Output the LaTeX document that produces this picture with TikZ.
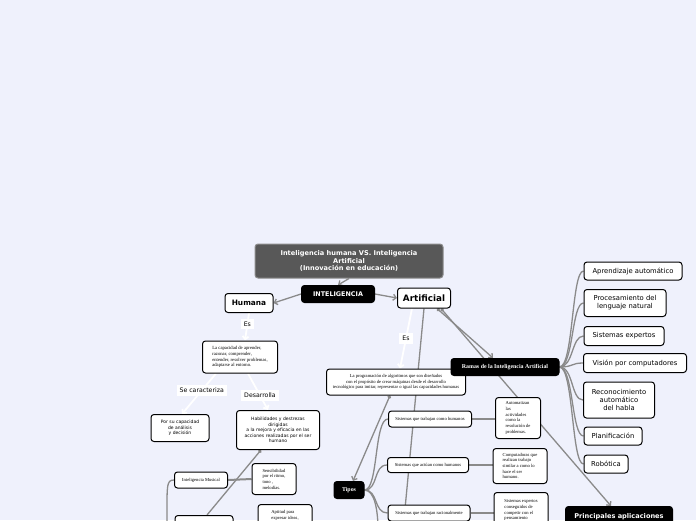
\documentclass[tikz,border=0pt]{standalone}
\usepackage{fontspec}
\setmainfont{Liberation Serif}
\setsansfont{DejaVu Sans}
\usepackage{tikz}
\usetikzlibrary{arrows.meta,backgrounds}

\definecolor{pagebg}{RGB}{239,241,252}
\definecolor{linkgray}{RGB}{138,138,138}
\definecolor{titlegray}{RGB}{88,88,88}

\begin{document}
\begin{tikzpicture}[
 x=1pt,y=-1pt,
 box/.style={draw=black,fill=white,rounded corners=3pt,line width=1pt,align=center,
             inner sep=1pt,font=\sffamily\fontsize{6.8}{8.2}\selectfont},
 dark/.style={box,fill=black,text=white},
 tiny/.style={box,font=\rmfamily\fontsize{4.6}{5.7}\selectfont},
 smallsans/.style={box,font=\sffamily\fontsize{4.5}{5.5}\selectfont},
 link/.style={draw=linkgray,line width=1.3pt},
 heavy/.style={draw=linkgray,line width=2pt},
 flow/.style={link,-{Straight Barb[length=3pt,width=6pt]}},
 dotflow/.style={link,{Circle[length=3.5pt]}-{Straight Barb[length=3pt,width=6pt]}},
 pale/.style={draw=white,line width=1.8pt,-{Straight Barb[length=3pt,width=6pt]}},
 lbl/.style={fill=white,inner sep=3pt,font=\sffamily\fontsize{6.2}{7}\selectfont}]
\useasboundingbox (0,0) rectangle (696,520);
\node[box,fill=titlegray,draw=black!45,text=white,minimum width=188,minimum height=34,
 font=\sffamily\bfseries\fontsize{6.6}{7.8}\selectfont] (title) at (349,261)
 {Inteligencia humana VS. Inteligencia\\Artificial\\(Innovación en educación)};
\node[dark,minimum width=73,minimum height=17,font=\sffamily\bfseries\fontsize{6.4}{7}\selectfont]
 (intel) at (338,294) {INTELIGENCIA};
\node[box,minimum width=48,minimum height=19,font=\sffamily\bfseries\fontsize{7.4}{8}\selectfont]
 (humana) at (249,303) {Humana};
\node[box,minimum width=53,minimum height=20,font=\sffamily\bfseries\fontsize{8.8}{9}\selectfont]
 (artif) at (424,298) {Artificial};
\node[tiny,align=left,minimum width=75,minimum height=32,font=\rmfamily\fontsize{4.7}{5.9}\selectfont]
 (capH) at (240,357)
 {La capacidad de aprender,\\razonar, comprender,\\entender, resolver problemas,\\adaptarse al entorno.};
\node[smallsans,minimum width=58,minimum height=27] (analisis) at (180,428)
 {Por su capacidad\\de análisis\\y decisión};
\node[smallsans,minimum width=83,minimum height=39] (habil) at (278,430)
 {Habilidades y destrezas\\dirigidas\\a la mejora y eficacia en las\\acciones realizadas por el ser\\humano};
\node[tiny,minimum width=53,minimum height=16] (musical) at (201,480) {Inteligencia Musical};
\node[tiny,align=left,minimum width=44,minimum height=31] (sensib) at (274,479)
 {Sensibilidad\\por el ritmo,\\tono ,\\melodías.};
\node[box,anchor=north,minimum width=58,minimum height=30] (bottomL) at (204,515) {};
\node[tiny,align=left,anchor=north,minimum width=54,minimum height=32] (aptitud) at (285,504)
 {Aptitud para\\expresar ideas,\\\phantom{x}\\\phantom{x}};
\node[tiny,minimum width=139,minimum height=26] (progIA) at (396,382)
 {La programación de algoritmos que son diseñados\\con el propósito de crear máquinas desde el desarrollo\\tecnológico para imitar, representar o igual las capacidades humanas};
\node[dark,minimum width=108,minimum height=17,font=\rmfamily\bfseries\fontsize{5.9}{7}\selectfont]
 (ramas) at (505,367) {Ramas de la Inteligencia Artificial};
\node[dark,minimum width=30,minimum height=17,font=\rmfamily\bfseries\fontsize{5.9}{7}\selectfont]
 (tipos) at (349,490) {Tipos};
\node[tiny,minimum width=83,minimum height=16] (sisA) at (430,419) {Sistemas que trabajan como humanos};
\node[tiny,minimum width=81,minimum height=15] (sisB) at (428,465) {Sistemas que actúan como humanos};
\node[tiny,minimum width=82,minimum height=16] (sisC) at (429,513) {Sistemas que trabajan racionalmente};
\node[tiny,align=left,minimum width=45,minimum height=41] (autom) at (518,418)
 {Automatizan\\las\\actividades\\como la\\resolución de\\problemas.};
\node[tiny,align=left,minimum width=54,minimum height=35] (comput) at (520,466)
 {Computadoras que\\realizan trabajo\\similar a como lo\\hace el ser\\humano.};
\node[tiny,align=left,anchor=north,minimum width=54,minimum height=40] (expertC) at (521,492)
 {Sistemas expertos\\conseguidos de\\competir con el\\pensamiento\\\phantom{x}};
\node[dark,anchor=north,minimum width=107,minimum height=20,font=\sffamily\bfseries\fontsize{6.6}{7.5}\selectfont]
 (aplic) at (619,506) {Principales aplicaciones};
\node[box,minimum width=98,minimum height=18] (aprend) at (633,271) {Aprendizaje automático};
\node[box,minimum width=82,minimum height=27] (proces) at (625,303) {Procesamiento del\\lenguaje natural};
\node[box,minimum width=80,minimum height=19] (sexp) at (624,336) {Sistemas expertos};
\node[box,minimum width=103,minimum height=19] (vision) at (635,363) {Visión por computadores};
\node[box,minimum width=71,minimum height=36] (recon) at (619,400) {Reconocimiento\\automático\\del habla};
\node[box,minimum width=58,minimum height=18] (planif) at (613,436) {Planificación};
\node[box,minimum width=44,minimum height=18] (robot) at (606,464) {Robótica};
\coordinate (musDn) at (167,530);
\coordinate (tiposDn) at (378,530);
\coordinate (artDn) at (403,530);
\begin{scope}[on background layer]
\clip (0,0) rectangle (696,520);
\fill[pagebg] (0,0) rectangle (696,520);
\draw[flow] (title.south) -- (intel.north);
\draw[flow] (intel.west) -- (humana.east);
\draw[flow] (intel.east) -- (artif.west);
\draw[pale] (humana.south) -- node[lbl,pos=0.4] {Es} ([xshift=5pt]capH.north);
\draw[pale] ([xshift=-24pt]capH.south) -- node[lbl,pos=0.42] {Se caracteriza} ([xshift=2pt]analisis.north);
\draw[pale] ([xshift=8pt]capH.south) -- node[lbl,pos=0.6] {Desarrolla} ([xshift=-10pt]habil.north);
\draw[link,{Circle[length=3.5pt]}-] ([xshift=-17pt]habil.south) -- ([xshift=3pt]bottomL.north);
\draw[heavy] (musical.east) -- (sensib.west);
\draw[link] (musDn) .. controls +(0,-45) and +(-8,0) .. (musical.west);
\draw[pale] ([xshift=-12pt]artif.south) -- node[lbl,pos=0.5] {Es} ([xshift=4pt]progIA.north);
\draw[link] (artif.south) -- (artDn);
\draw[dotflow] ([xshift=13pt]artif.south) -- ([xshift=-12pt]ramas.north);
\draw[dotflow] ([xshift=17pt]artif.south) -- ([xshift=-8pt]aplic.north);
\draw[dotflow] ([xshift=-6pt]progIA.south) -- ([xshift=4pt]tipos.north);
\draw[link] (tipos.east) .. controls +(14,0) and +(-14,0) .. (sisA.west);
\draw[link] (tipos.east) .. controls +(14,0) and +(-14,0) .. (sisB.west);
\draw[link] (tipos.east) .. controls +(14,0) and +(-14,0) .. (sisC.west);
\draw[link] (tipos.east) .. controls +(10,0) and +(0,-20) .. (tiposDn);
\draw[heavy] (sisA.east) -- (sisA.east -| autom.west);
\draw[heavy] (sisB.east) -- (sisB.east -| comput.west);
\draw[heavy] (sisC.east) -- (sisC.east -| expertC.west);
\draw[link] (ramas.east) .. controls +(14,0) and +(-12,0) .. (aprend.west);
\draw[link] (ramas.east) .. controls +(14,0) and +(-12,0) .. (proces.west);
\draw[link] (ramas.east) .. controls +(14,0) and +(-12,0) .. (sexp.west);
\draw[link] (ramas.east) .. controls +(14,0) and +(-12,0) .. (vision.west);
\draw[link] (ramas.east) .. controls +(14,0) and +(-12,0) .. (recon.west);
\draw[link] (ramas.east) .. controls +(14,0) and +(-12,0) .. (planif.west);
\draw[link] (ramas.east) .. controls +(14,0) and +(-12,0) .. (robot.west);
\end{scope}
\end{tikzpicture}
\end{document}
